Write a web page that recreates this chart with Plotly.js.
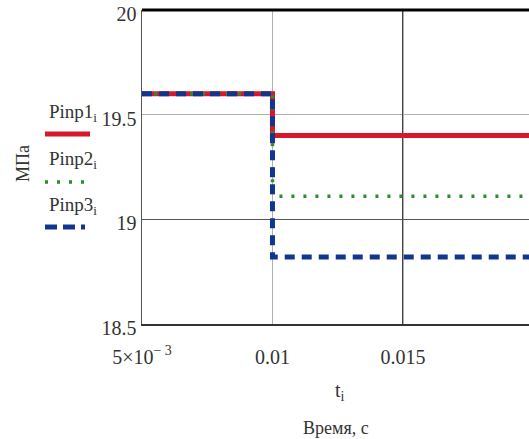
<!DOCTYPE html>
<html>
<head>
<meta charset="utf-8">
<script src="https://cdn.plot.ly/plotly-3.0.1.min.js"></script>
<style>html,body{margin:0;padding:0;background:#fff;overflow:hidden}#chart{width:529px;height:439px}</style>
</head>
<body>
<div id="chart"></div>
<script>
// Data
const t = [0.005, 0.01, 0.02];
const pinp1 = [19.6, 19.4, 19.4];
const pinp2 = [19.6, 19.11, 19.11];
const pinp3 = [19.6, 18.82, 18.82];
const seriesNames = ["Pinp1<sub>i</sub>", "Pinp2<sub>i</sub>", "Pinp3<sub>i</sub>"];
const xTickVals = [0.005, 0.01, 0.015];
const xTickText = ["5×10<sup>− 3</sup>", "0.01", "0.015"];
const yTickVals = [18.5, 19, 19.5, 20];
const yTickText = ["18.5", "19", "19.5", "20"];
const xDarkGrid = [0.015];
const yDarkGrid = [19];

const font = "'Liberation Serif', 'Times New Roman', serif";
const txt = "#333";
const xRange = [0.005, 0.01983];
const yRange = [18.5, 20.0001];

const traces = [
  {x: t, y: pinp1, mode: "lines", line: {shape: "hv", color: "#d7182a", width: 5}, xaxis: "x", yaxis: "y"},
  {x: t, y: pinp2, mode: "lines", line: {shape: "hv", color: "#2e8b2e", width: 3.5, dash: "3px,9px"}, xaxis: "x", yaxis: "y"},
  {x: t, y: pinp3, mode: "lines", line: {shape: "hv", color: "#12368f", width: 5, dash: "10px,7px"}, xaxis: "x", yaxis: "y"}
];

const legendColors = ["#d7182a", "#2e8b2e", "#12368f"];
const legendDash = ["solid", "3px,9px", "12px,6px,12px,6px,4px"];
const legendWidth = [5, 3.5, 5];
const legendTextY = [113, 160, 206];
const legendLineY = [134, 182, 227];
const H = 439, W = 529, L = 142, T = 10, B = 115;
const ph = H - T - B;
function py(p) { return 1 - (p - T) / ph; }
function px(p) { return (p - L) / (W - L); }

const shapes = [
  {type: "line", xref: "paper", yref: "paper", x0: 0, x1: 1, y0: 1, y1: 1, line: {color: "#000", width: 3}}
];
const annotations = [
  {xref: "paper", yref: "paper", x: 0.5, y: py(428), text: "Время, с", showarrow: false, font: {family: font, size: 18, color: txt}, xanchor: "center", yanchor: "middle"},
  {xref: "paper", yref: "paper", x: px(340), y: py(391), text: "t<sub>i</sub>", showarrow: false, font: {family: font, size: 20, color: txt}, xanchor: "center", yanchor: "middle"},
  {xref: "paper", yref: "paper", x: px(23), y: py(164), text: "МПа", textangle: -90, showarrow: false, font: {family: font, size: 18, color: txt}, xanchor: "center", yanchor: "middle"}
];
for (let k = 0; k < 3; k++) {
  annotations.push({xref: "paper", yref: "paper", x: px(47), y: py(legendTextY[k]), text: seriesNames[k], showarrow: false, font: {family: font, size: 19, color: txt}, xanchor: "left", yanchor: "middle"});
  shapes.push({type: "line", xref: "paper", yref: "paper", x0: px(45), x1: px(90), y0: py(legendLineY[k]), y1: py(legendLineY[k]), line: {color: legendColors[k], width: legendWidth[k], dash: legendDash[k]}});
}

const layout = {
  width: W, height: H,
  margin: {l: L, r: 0, t: T, b: B, pad: 0},
  paper_bgcolor: "#fff", plot_bgcolor: "#fff",
  showlegend: false,
  font: {family: font, size: 18, color: txt},
  xaxis: {range: xRange, tickmode: "array", tickvals: xTickVals, ticktext: xTickText, showgrid: true,
    gridcolor: "#b0b0b0", gridwidth: 1.5, showline: true, linecolor: "#333", linewidth: 1.5, zeroline: false,
    ticks: "", ticklabelstandoff: 14, ticklabeloverflow: "allow", tickfont: {family: font, size: 20, color: txt}},
  xaxis2: {range: xRange, overlaying: "x", tickmode: "array", tickvals: xDarkGrid, showticklabels: false, showgrid: true,
    gridcolor: "#444", gridwidth: 1, zeroline: false, showline: false, ticks: ""},
  yaxis: {range: yRange, tickmode: "array", tickvals: yTickVals, ticktext: yTickText, showgrid: true,
    gridcolor: "#b0b0b0", gridwidth: 1.5, showline: true, linecolor: "#555", linewidth: 1.5, zeroline: false,
    ticks: "", ticklabelstandoff: 0, ticklabelshift: 4, ticklabeloverflow: "allow", tickfont: {family: font, size: 20, color: txt}},
  yaxis2: {range: yRange, overlaying: "y", tickmode: "array", tickvals: yDarkGrid, showticklabels: false, showgrid: true,
    gridcolor: "#555", gridwidth: 1, zeroline: false, showline: false, ticks: ""},
  shapes: shapes,
  annotations: annotations
};
traces.push({x: xRange, y: yRange, xaxis: "x2", yaxis: "y2", mode: "none", hoverinfo: "skip", showlegend: false});
Plotly.newPlot("chart", traces, layout, {staticPlot: true});
</script>
</body>
</html>
